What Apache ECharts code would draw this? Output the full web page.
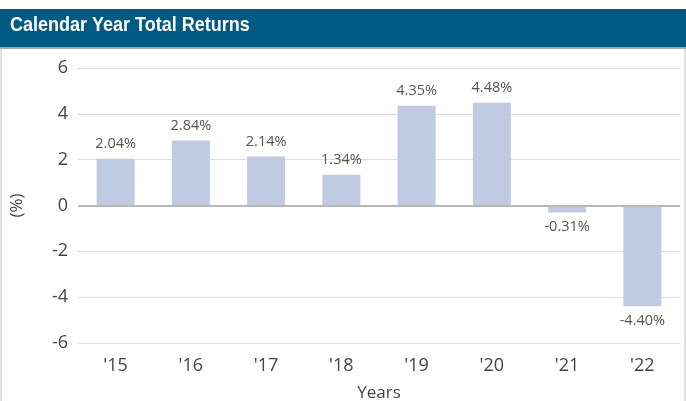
<!DOCTYPE html>
<html><head><meta charset="utf-8">
<script src="https://cdn.jsdelivr.net/npm/echarts@6/dist/echarts.min.js"></script>
<style>html,body{margin:0;padding:0;background:#fff}#c{width:686px;height:401px}</style>
</head><body><div id="c"></div>
<script>
var categories = ["'15","'16","'17","'18","'19","'20","'21","'22"];
var returns = [2.04, 2.84, 2.14, 1.34, 4.35, 4.48, -0.31, -4.40];
var yTicks = [-6, -4, -2, 0, 2, 4, 6];
var title = 'Calendar Year Total Returns';

var chart = echarts.init(document.getElementById('c'));
chart.setOption({
  animation: false,
  graphic: [
    {type:'rect', shape:{x:0,y:9,width:686,height:38}, style:{fill:'#005a84'}},
    {type:'rect', shape:{x:0,y:47,width:686,height:2}, style:{fill:'#a8a8a8'}},
    {type:'rect', shape:{x:0,y:49,width:2,height:352}, style:{fill:'#e2e2e2'}},
    {type:'rect', shape:{x:684,y:49,width:2,height:352}, style:{fill:'#e2e2e2'}},
    {type:'text', x:10, y:15, scaleX:0.9, style:{text:title, fill:'#fff', font:'bold 20px "Liberation Sans", Arial, sans-serif'}}
  ],
  grid: {left:78, right:6, top:68, bottom:58, containLabel:false, outerBoundsMode:'none'},
  xAxis: {
    type:'category', data: categories, position:'bottom',
    name:'Years', nameLocation:'middle', nameGap:42,
    nameTextStyle:{fontSize:17, color:'#444', fontFamily:'Open Sans'},
    axisLine:{onZero:false, lineStyle:{color:'#dcdcdc', width:1}},
    axisTick:{alignWithLabel:true, length:6, lineStyle:{color:'#cfcfcf'}},
    axisLabel:{fontSize:18, color:'#444', margin:14, fontFamily:'Open Sans'}
  },
  yAxis: {
    type:'value', min:-6, max:6, interval:2,
    name:'(%)', nameLocation:'middle', nameGap:52, nameRotate:90,
    nameTextStyle:{fontSize:17, color:'#444', fontFamily:'Open Sans'},
    axisLine:{show:false}, axisTick:{show:false},
    axisLabel:{fontSize:18, color:'#444', margin:10, fontFamily:'Open Sans',
      formatter:function(v){return yTicks.indexOf(v)>=0 ? String(v) : '';}},
    splitLine:{lineStyle:{color:'#dcdcdc', width:1}}
  },
  series: [{
    type:'bar', data: returns, barWidth:38,
    itemStyle:{color:'#c0cbe3'},
    label:{show:true, position:'outside', distance:7, fontSize:14.5, color:'#555', fontFamily:'Open Sans',
      formatter:function(p){return p.value.toFixed(2)+'%';}},
    markLine:{symbol:'none', silent:true, label:{show:false},
      lineStyle:{color:'#b8b8b8', width:2, type:'solid'}, data:[{yAxis:0}]}
  }]
});
</script></body></html>
